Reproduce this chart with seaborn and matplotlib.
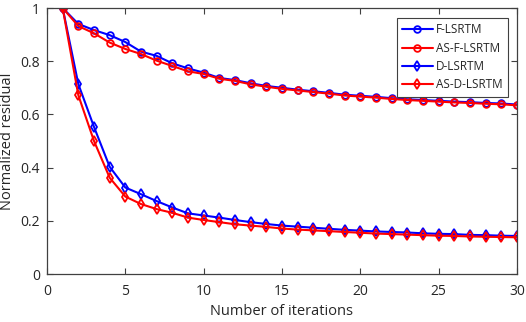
import numpy as np
import pandas as pd
import seaborn as sns
import matplotlib.pyplot as plt

iterations = list(range(1, 31))

f_lsrtm = [1.0, 0.940, 0.917, 0.898, 0.872, 0.836, 0.820, 0.792, 0.773, 0.757,
           0.737, 0.729, 0.717, 0.707, 0.700, 0.693, 0.687, 0.681, 0.674, 0.670,
           0.666, 0.661, 0.657, 0.654, 0.651, 0.648, 0.646, 0.643, 0.641, 0.637]
as_f_lsrtm = [1.0, 0.932, 0.905, 0.870, 0.846, 0.827, 0.802, 0.782, 0.762, 0.752,
              0.734, 0.726, 0.713, 0.704, 0.696, 0.690, 0.684, 0.678, 0.671, 0.667,
              0.663, 0.658, 0.654, 0.651, 0.648, 0.645, 0.643, 0.640, 0.638, 0.634]
d_lsrtm = [1.0, 0.714, 0.553, 0.403, 0.325, 0.300, 0.274, 0.250, 0.228, 0.220,
           0.212, 0.203, 0.195, 0.188, 0.182, 0.178, 0.174, 0.170, 0.166, 0.163,
           0.160, 0.158, 0.156, 0.153, 0.151, 0.150, 0.147, 0.146, 0.144, 0.143]
as_d_lsrtm = [1.0, 0.672, 0.500, 0.362, 0.291, 0.263, 0.244, 0.230, 0.212, 0.203,
              0.195, 0.187, 0.182, 0.177, 0.171, 0.167, 0.164, 0.161, 0.158, 0.155,
              0.152, 0.150, 0.148, 0.146, 0.144, 0.143, 0.141, 0.140, 0.139, 0.138]

series = [
    ('F-LSRTM', f_lsrtm, '#0000ff', 'o'),
    ('AS-F-LSRTM', as_f_lsrtm, '#ff0000', 'o'),
    ('D-LSRTM', d_lsrtm, '#0000ff', 'd'),
    ('AS-D-LSRTM', as_d_lsrtm, '#ff0000', 'd'),
]

sns.set_style('ticks')
plt.rcParams['font.family'] = ['Open Sans', 'DejaVu Sans']

fig = plt.figure(figsize=(5.26, 3.22), dpi=100)
ax = fig.add_axes([47 / 526, 1 - 274 / 322, 470 / 526, 266 / 322])

for name, vals, color, marker in series:
    df = pd.DataFrame({'Iteration': iterations, 'Residual': vals})
    sns.lineplot(data=df, x='Iteration', y='Residual', ax=ax, color=color,
                 marker=marker, markersize=4.8, markerfacecolor='none',
                 markeredgecolor=color, markeredgewidth=1.3, linewidth=1.5,
                 label=name)

ax.set_xlim(0, 30)
ax.set_ylim(0, 1)
ax.set_xticks([0, 5, 10, 15, 20, 25, 30])
ax.set_yticks([0, 0.2, 0.4, 0.6, 0.8, 1])
ax.set_yticklabels(['0', '0.2', '0.4', '0.6', '0.8', '1'])
ax.set_xlabel('Number of iterations', fontsize=10.5, labelpad=4)
ax.set_ylabel('Normalized residual', fontsize=10.5, labelpad=4)
ax.tick_params(direction='in', top=True, right=True, length=4, width=0.8,
               labelsize=10, colors='#404040', labelcolor='#262626')
ax.tick_params(axis='x', pad=7)
ax.tick_params(axis='y', pad=5)
for s in ax.spines.values():
    s.set_color('#404040')
    s.set_linewidth(0.9)

leg = ax.legend(loc='upper right', bbox_to_anchor=(0.981, 0.962), fontsize=8.5,
                handlelength=2.6, handletextpad=0.3, borderpad=0.45,
                labelspacing=0.45, borderaxespad=0, fancybox=False,
                framealpha=1)
leg.get_frame().set_edgecolor('#404040')
leg.get_frame().set_linewidth(0.8)

fig.savefig('out.png', dpi=100)
